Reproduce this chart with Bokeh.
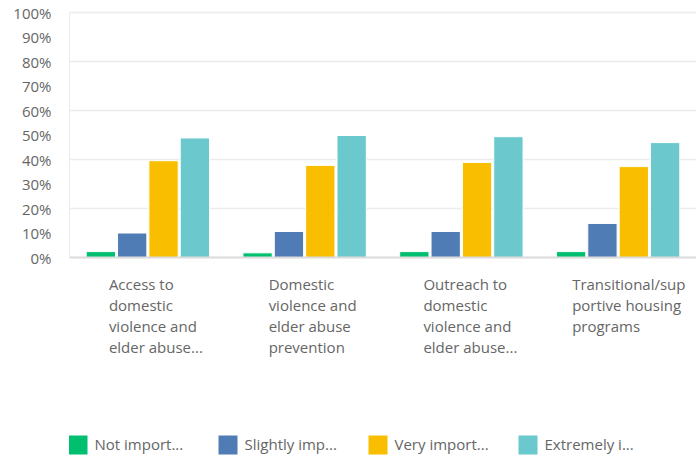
from bokeh.plotting import figure
from bokeh.models import (Range1d, FixedTicker, Legend, LegendItem, Span,
                          ColumnDataSource, LinearAxis)
from bokeh.core.properties import value
from bokeh.embed import file_html
from bokeh.resources import INLINE

# ---------------- data ----------------
categories = [
    "Access to domestic violence and elder abuse...",
    "Domestic violence and elder abuse prevention",
    "Outreach to domestic violence and elder abuse...",
    "Transitional/supportive housing programs",
]
category_lines = [
    ["Access to", "domestic", "violence and", "elder abuse..."],
    ["Domestic", "violence and", "elder abuse", "prevention"],
    ["Outreach to", "domestic", "violence and", "elder abuse..."],
    ["Transitional/sup", "portive housing", "programs"],
]
series_names = ["Not import...", "Slightly imp...", "Very import...", "Extremely i..."]
not_important = [2.4, 1.9, 2.4, 2.4]
slightly_important = [10.0, 10.6, 10.6, 13.9]
very_important = [39.5, 37.6, 38.8, 37.1]
extremely_important = [48.8, 49.8, 49.3, 46.9]
series_values = [not_important, slightly_important, very_important, extremely_important]
y_ticks = [0, 10, 20, 30, 40, 50, 60, 70, 80, 90, 100]
y_tick_labels = ["0%", "10%", "20%", "30%", "40%", "50%", "60%", "70%", "80%", "90%", "100%"]

# ---------------- style ----------------
colors = ["#00bf6f", "#507cb6", "#f9be00", "#6bc8cd"]
text_color = "#666666"
font = "Open Sans"
fsize = "15px"

W, H = 696, 457
left_px = 69          # frame left edge in canvas
top_px = 10
px_per_unit = 2.45    # vertical px per percent
cat_px = 156.75       # px per category
frame_w = W - left_px
frame_h = H - top_px
y_end = 100 + 2 / px_per_unit
y_start = y_end - frame_h / px_per_unit
x_end = frame_w / cat_px

p = figure(width=W, height=H, output_backend="svg", toolbar_location=None,
           x_axis_type=None, y_axis_location=None,
           x_range=Range1d(0, x_end), y_range=Range1d(y_start, y_end),
           min_border_left=left_px, min_border_right=0,
           min_border_top=top_px, min_border_bottom=0)
p.outline_line_color = None
p.background_fill_color = "white"
p.border_fill_color = "white"

yaxis = LinearAxis(ticker=FixedTicker(ticks=y_ticks),
                   major_label_overrides={t: l for t, l in zip(y_ticks, y_tick_labels)})
yaxis.bounds = (0, 100)
yaxis.axis_line_color = "#ececec"
yaxis.axis_line_width = 1
yaxis.major_tick_line_color = None
yaxis.minor_tick_line_color = None
yaxis.major_tick_out = 0
yaxis.major_tick_in = 0
yaxis.major_label_standoff = 18
yaxis.major_label_text_font = font
yaxis.major_label_text_font_size = fsize
yaxis.major_label_text_color = text_color
p.add_layout(yaxis, "left")
p.ygrid.grid_line_color = "#ececec"
p.ygrid.grid_line_width = 1.5

p.add_layout(Span(location=0, dimension="width", line_color="#dcdcdc", line_width=2))

offsets = [-0.3, -0.1, 0.1, 0.3]
renderers = []
for k, vals in enumerate(series_values):
    src = ColumnDataSource(dict(x=[i + 0.5 + offsets[k] for i in range(len(categories))],
                                top=vals))
    r = p.vbar(x="x", top="top", bottom=0, width=0.187, source=src,
               fill_color=colors[k], line_color="white", line_width=1)
    renderers.append(r)

# category labels (multi-line, left aligned)
label_dx = [-39, -36, -38, -46]
xs, ys, txt, xo, yo = [], [], [], [], []
for i, lines in enumerate(category_lines):
    for j, line in enumerate(lines):
        xs.append(i + 0.5)
        ys.append(0)
        txt.append(line)
        xo.append(label_dx[i])
        yo.append(26 + 21 * j)
p.text(x="x", y="y", text="t", x_offset="xo", y_offset="yo",
       source=ColumnDataSource(dict(x=xs, y=ys, t=txt, xo=xo, yo=yo)),
       text_font=value(font), text_font_size=fsize, text_color=text_color,
       text_align="left", text_baseline="middle")

legend = Legend(items=[LegendItem(label=n, renderers=[r]) for n, r in zip(series_names, renderers)],
                orientation="horizontal", location=(-4.5, 0.5),
                padding=0, margin=0, spacing=0,
                glyph_width=25, glyph_height=25, label_standoff=5, label_width=120,
                border_line_color=None, background_fill_alpha=0,
                label_text_font=font, label_text_font_size=fsize,
                label_text_color=text_color)
p.add_layout(legend)

open("out.html", "w").write(file_html(p, INLINE))
